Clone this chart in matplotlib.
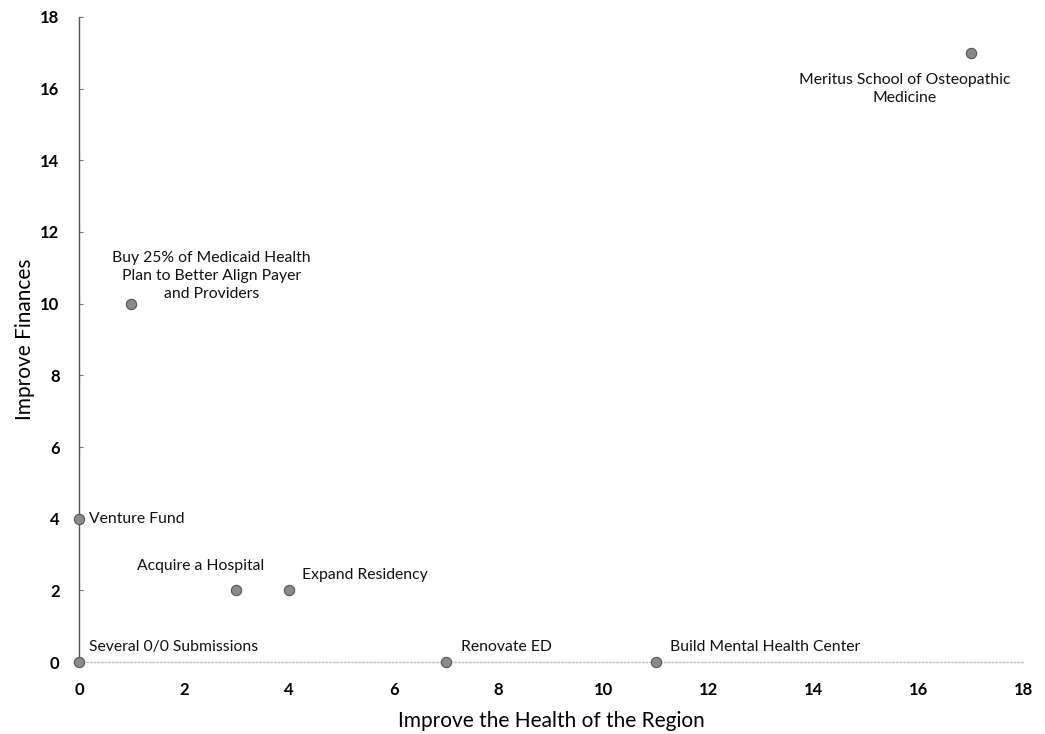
import matplotlib.pyplot as plt

plt.rcParams['font.family'] = ['Lato', 'DejaVu Sans']

# Initiatives scored on the two goals
names = ['Meritus School of Osteopathic\nMedicine',
         'Buy 25% of Medicaid Health\nPlan to Better Align Payer\nand Providers',
         'Venture Fund', 'Acquire a Hospital', 'Expand Residency',
         'Several 0/0 Submissions', 'Renovate ED', 'Build Mental Health Center']
health = [17, 1, 0, 3, 4, 0, 7, 11]
finances = [17, 10, 4, 2, 2, 0, 0, 0]

# label offsets (pixels) and alignment for each point
offsets = [(-66, -20, 'center', 'top'), (80, 3, 'center', 'bottom'),
           (10, 0, 'left', 'center'), (-36, 24, 'center', 'center'),
           (13, 15, 'left', 'center'), (10, 15, 'left', 'center'),
           (15, 15, 'left', 'center'), (14, 15, 'left', 'center')]

fig = plt.figure(figsize=(10.45, 7.34), dpi=100)
ax = fig.add_axes([0.0756, 0.098, 0.9034, 0.879])

ax.scatter(health, finances, s=55, color='#8a8a8a', edgecolor='#555555',
           linewidth=0.8, zorder=3, clip_on=False)

for x, y, name, (dx, dy, ha, va) in zip(health, finances, names, offsets):
    ax.annotate(name, (x, y), xytext=(dx, dy), textcoords='offset pixels',
                ha=ha, va=va, fontsize=11.3, color='#111111', linespacing=1.35)

ax.set_xlim(0, 18)
ax.set_ylim(0, 18)
ax.set_xticks(range(0, 19, 2))
ax.set_yticks(range(0, 19, 2))

ax.spines['top'].set_visible(False)
ax.spines['right'].set_visible(False)
ax.spines['left'].set_color('#555555')
ax.spines['left'].set_linewidth(1.0)
ax.spines['bottom'].set_color('#c0c0c0')
ax.spines['bottom'].set_linestyle(':')
ax.spines['bottom'].set_linewidth(1.0)

ax.tick_params(axis='x', length=0, pad=14, labelsize=12)
ax.tick_params(axis='y', direction='in', length=3, color='#777777', pad=14, labelsize=12)
for lbl in ax.get_xticklabels() + ax.get_yticklabels():
    lbl.set_fontweight('bold')

ax.set_xlabel('Improve the Health of the Region', fontsize=15, labelpad=10)
ax.set_ylabel('Improve Finances', fontsize=15, labelpad=4)

fig.savefig('out.png', dpi=100)
